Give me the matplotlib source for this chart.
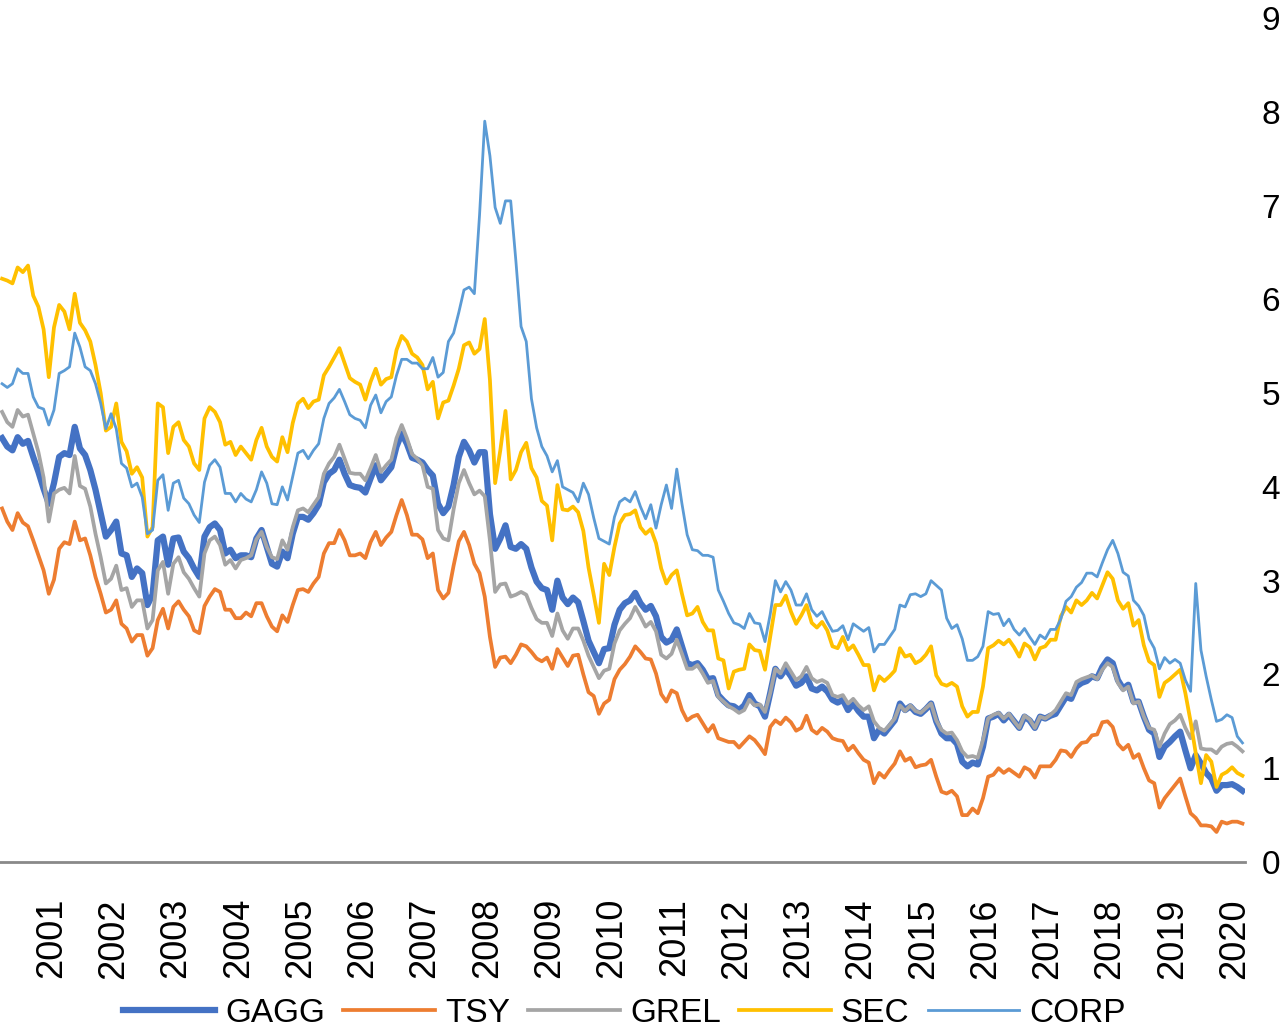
import numpy as np
import matplotlib.pyplot as plt

plt.rcParams['font.family'] = ['Liberation Sans', 'DejaVu Sans']

# monthly yields (%)
gagg = [4.52, 4.43, 4.39, 4.53, 4.46, 4.49, 4.32, 4.16, 3.98, 3.82, 4.04, 4.32,
        4.36, 4.34, 4.64, 4.41, 4.34, 4.18, 3.97, 3.72, 3.47, 3.54, 3.63, 3.29,
        3.27, 3.04, 3.13, 3.08, 2.74, 2.85, 3.43, 3.47, 3.17, 3.45, 3.46, 3.31,
        3.24, 3.13, 3.04, 3.47, 3.57, 3.61, 3.54, 3.29, 3.33, 3.24, 3.27, 3.27,
        3.25, 3.45, 3.54, 3.36, 3.18, 3.15, 3.31, 3.24, 3.50, 3.68, 3.68, 3.65,
        3.72, 3.81, 4.05, 4.14, 4.18, 4.29, 4.14, 4.02, 4.00, 3.99, 3.94, 4.09,
        4.23, 4.07, 4.14, 4.21, 4.43, 4.57, 4.46, 4.31, 4.29, 4.26, 4.18, 4.12,
        3.82, 3.72, 3.79, 4.02, 4.32, 4.48, 4.39, 4.26, 4.37, 4.37, 3.71, 3.34,
        3.45, 3.59, 3.36, 3.34, 3.39, 3.34, 3.14, 2.99, 2.92, 2.90, 2.69, 3.00,
        2.82, 2.75, 2.82, 2.77, 2.57, 2.36, 2.24, 2.12, 2.27, 2.28, 2.53, 2.69,
        2.76, 2.79, 2.87, 2.76, 2.69, 2.73, 2.62, 2.40, 2.34, 2.37, 2.48, 2.30,
        2.12, 2.10, 2.12, 2.05, 1.95, 1.96, 1.78, 1.72, 1.67, 1.66, 1.62, 1.67,
        1.78, 1.69, 1.66, 1.55, 1.80, 2.06, 1.98, 2.06, 1.98, 1.88, 1.91, 1.98,
        1.85, 1.83, 1.87, 1.82, 1.73, 1.70, 1.73, 1.62, 1.69, 1.61, 1.55, 1.55,
        1.32, 1.41, 1.37, 1.44, 1.51, 1.69, 1.62, 1.66, 1.60, 1.58, 1.63, 1.69,
        1.50, 1.37, 1.32, 1.32, 1.26, 1.07, 1.02, 1.06, 1.04, 1.23, 1.53, 1.55,
        1.58, 1.51, 1.57, 1.50, 1.43, 1.55, 1.51, 1.43, 1.55, 1.53, 1.56, 1.58,
        1.67, 1.76, 1.74, 1.87, 1.91, 1.93, 1.98, 1.96, 2.08, 2.16, 2.12, 1.94,
        1.85, 1.89, 1.71, 1.71, 1.55, 1.41, 1.37, 1.12, 1.23, 1.28, 1.34, 1.39,
        1.19, 1.00, 1.14, 1.05, 0.95, 0.89, 0.76, 0.82, 0.82, 0.83, 0.80, 0.76]

tsy = [3.77, 3.63, 3.54, 3.72, 3.62, 3.58, 3.43, 3.27, 3.11, 2.86, 3.01, 3.34,
       3.41, 3.39, 3.63, 3.43, 3.45, 3.27, 3.04, 2.86, 2.66, 2.69, 2.79, 2.54,
       2.49, 2.35, 2.42, 2.42, 2.20, 2.28, 2.58, 2.70, 2.49, 2.72, 2.78, 2.69,
       2.62, 2.47, 2.44, 2.73, 2.83, 2.91, 2.88, 2.69, 2.69, 2.60, 2.60, 2.66,
       2.62, 2.76, 2.76, 2.62, 2.51, 2.46, 2.63, 2.56, 2.74, 2.90, 2.91, 2.88,
       2.97, 3.04, 3.29, 3.40, 3.40, 3.54, 3.43, 3.27, 3.27, 3.29, 3.24, 3.41,
       3.52, 3.38, 3.46, 3.52, 3.70, 3.86, 3.70, 3.49, 3.49, 3.44, 3.24, 3.29,
       2.90, 2.81, 2.87, 3.16, 3.42, 3.52, 3.38, 3.18, 3.08, 2.83, 2.40, 2.08,
       2.18, 2.19, 2.12, 2.21, 2.32, 2.30, 2.24, 2.17, 2.14, 2.18, 2.06, 2.27,
       2.18, 2.09, 2.20, 2.21, 2.00, 1.81, 1.77, 1.58, 1.69, 1.73, 1.95, 2.05,
       2.11, 2.19, 2.30, 2.24, 2.17, 2.16, 2.01, 1.79, 1.71, 1.83, 1.80, 1.62,
       1.51, 1.55, 1.57, 1.48, 1.39, 1.46, 1.32, 1.30, 1.28, 1.28, 1.22, 1.28,
       1.34, 1.30, 1.23, 1.15, 1.44, 1.51, 1.47, 1.54, 1.49, 1.40, 1.43, 1.56,
       1.41, 1.37, 1.43, 1.39, 1.32, 1.30, 1.29, 1.19, 1.24, 1.16, 1.09, 1.06,
       0.84, 0.95, 0.90, 0.98, 1.05, 1.18, 1.08, 1.11, 1.01, 1.03, 1.04, 1.09,
       0.91, 0.75, 0.73, 0.76, 0.70, 0.50, 0.50, 0.57, 0.52, 0.68, 0.91, 0.93,
       1.00, 0.95, 0.99, 0.95, 0.91, 1.01, 0.98, 0.90, 1.02, 1.02, 1.02, 1.09,
       1.19, 1.18, 1.12, 1.21, 1.27, 1.28, 1.35, 1.36, 1.49, 1.50, 1.44, 1.26,
       1.20, 1.25, 1.11, 1.15, 1.00, 0.87, 0.84, 0.58, 0.68, 0.75, 0.82, 0.89,
       0.70, 0.52, 0.47, 0.39, 0.39, 0.38, 0.32, 0.43, 0.41, 0.43, 0.43, 0.41]

grel = [4.80, 4.69, 4.64, 4.82, 4.75, 4.77, 4.57, 4.37, 4.10, 3.63, 3.93, 3.97,
        3.99, 3.93, 4.33, 4.01, 3.98, 3.79, 3.50, 3.25, 2.97, 3.02, 3.16, 2.90,
        2.92, 2.72, 2.79, 2.79, 2.49, 2.58, 3.11, 3.20, 2.86, 3.18, 3.25, 3.09,
        3.02, 2.92, 2.83, 3.29, 3.43, 3.47, 3.38, 3.17, 3.22, 3.13, 3.22, 3.24,
        3.27, 3.44, 3.52, 3.36, 3.25, 3.23, 3.43, 3.33, 3.57, 3.75, 3.77, 3.73,
        3.81, 3.89, 4.14, 4.25, 4.32, 4.45, 4.30, 4.15, 4.14, 4.14, 4.07, 4.20,
        4.34, 4.16, 4.23, 4.29, 4.52, 4.66, 4.52, 4.35, 4.30, 4.23, 4.00, 3.98,
        3.54, 3.45, 3.43, 3.76, 4.04, 4.18, 4.04, 3.92, 3.96, 3.90, 3.43, 2.88,
        2.96, 2.97, 2.83, 2.85, 2.88, 2.85, 2.71, 2.59, 2.55, 2.55, 2.41, 2.65,
        2.47, 2.38, 2.49, 2.49, 2.36, 2.20, 2.08, 1.96, 2.04, 2.06, 2.33, 2.47,
        2.54, 2.60, 2.72, 2.62, 2.51, 2.56, 2.46, 2.21, 2.17, 2.22, 2.37, 2.22,
        2.06, 2.06, 2.10, 2.01, 1.91, 1.93, 1.76, 1.71, 1.66, 1.63, 1.59, 1.62,
        1.73, 1.67, 1.68, 1.60, 1.80, 2.06, 2.01, 2.12, 2.03, 1.94, 1.98, 2.08,
        1.96, 1.92, 1.94, 1.91, 1.78, 1.76, 1.78, 1.69, 1.74, 1.67, 1.62, 1.66,
        1.50, 1.43, 1.40, 1.46, 1.53, 1.67, 1.61, 1.67, 1.61, 1.59, 1.64, 1.69,
        1.51, 1.41, 1.37, 1.38, 1.30, 1.18, 1.12, 1.13, 1.11, 1.30, 1.53, 1.57,
        1.59, 1.53, 1.58, 1.50, 1.43, 1.56, 1.52, 1.43, 1.55, 1.53, 1.57, 1.62,
        1.71, 1.80, 1.78, 1.92, 1.95, 1.97, 1.99, 1.95, 2.05, 2.12, 2.08, 1.91,
        1.83, 1.87, 1.69, 1.71, 1.55, 1.43, 1.41, 1.23, 1.37, 1.47, 1.51, 1.57,
        1.43, 1.32, 1.50, 1.21, 1.20, 1.20, 1.16, 1.23, 1.26, 1.27, 1.23, 1.18]

sec = [6.22, 6.20, 6.17, 6.34, 6.29, 6.36, 6.04, 5.92, 5.68, 5.17, 5.70, 5.94,
       5.87, 5.68, 6.06, 5.75, 5.67, 5.55, 5.30, 5.00, 4.60, 4.64, 4.89, 4.48,
       4.38, 4.14, 4.21, 4.10, 3.47, 3.57, 4.89, 4.85, 4.36, 4.64, 4.69, 4.50,
       4.43, 4.25, 4.18, 4.73, 4.85, 4.80, 4.69, 4.45, 4.48, 4.34, 4.43, 4.36,
       4.29, 4.50, 4.63, 4.43, 4.32, 4.27, 4.53, 4.37, 4.68, 4.89, 4.94, 4.84,
       4.91, 4.93, 5.19, 5.28, 5.38, 5.48, 5.32, 5.16, 5.12, 5.09, 4.93, 5.12,
       5.26, 5.09, 5.15, 5.17, 5.46, 5.61, 5.55, 5.42, 5.38, 5.30, 5.04, 5.12,
       4.73, 4.90, 4.92, 5.08, 5.26, 5.51, 5.54, 5.42, 5.47, 5.79, 5.14, 4.04,
       4.39, 4.81, 4.08, 4.18, 4.37, 4.47, 4.20, 4.10, 3.85, 3.80, 3.43, 4.02,
       3.76, 3.75, 3.79, 3.73, 3.53, 3.14, 2.85, 2.55, 3.18, 3.06, 3.36, 3.61,
       3.70, 3.71, 3.75, 3.57, 3.50, 3.55, 3.40, 3.13, 2.97, 3.06, 3.11, 2.86,
       2.63, 2.65, 2.72, 2.56, 2.47, 2.47, 2.17, 2.15, 1.85, 2.03, 2.05, 2.06,
       2.32, 2.26, 2.25, 2.05, 2.40, 2.74, 2.74, 2.84, 2.67, 2.54, 2.63, 2.74,
       2.55, 2.50, 2.56, 2.47, 2.30, 2.28, 2.40, 2.26, 2.31, 2.21, 2.10, 2.10,
       1.83, 1.98, 1.93, 1.98, 2.04, 2.28, 2.19, 2.21, 2.12, 2.15, 2.21, 2.30,
       1.99, 1.90, 1.88, 1.91, 1.87, 1.66, 1.55, 1.60, 1.60, 1.87, 2.28, 2.31,
       2.36, 2.32, 2.37, 2.29, 2.19, 2.33, 2.29, 2.16, 2.28, 2.30, 2.37, 2.37,
       2.62, 2.72, 2.66, 2.79, 2.74, 2.79, 2.87, 2.81, 2.95, 3.09, 3.02, 2.79,
       2.70, 2.76, 2.52, 2.58, 2.31, 2.14, 2.10, 1.76, 1.91, 1.95, 2.00, 2.05,
       1.80, 1.50, 1.16, 0.84, 1.14, 1.07, 0.80, 0.93, 0.96, 1.01, 0.95, 0.92]

corp = [5.10, 5.06, 5.10, 5.26, 5.21, 5.21, 4.96, 4.85, 4.83, 4.66, 4.82, 5.21,
        5.24, 5.28, 5.64, 5.49, 5.28, 5.24, 5.10, 4.89, 4.62, 4.78, 4.62, 4.25,
        4.20, 4.00, 4.04, 3.89, 3.50, 3.54, 4.07, 4.13, 3.75, 4.04, 4.07, 3.88,
        3.82, 3.70, 3.62, 4.05, 4.23, 4.29, 4.21, 3.93, 3.93, 3.84, 3.93, 3.87,
        3.84, 3.97, 4.16, 4.04, 3.82, 3.81, 4.00, 3.86, 4.11, 4.36, 4.39, 4.30,
        4.39, 4.46, 4.73, 4.89, 4.95, 5.04, 4.91, 4.77, 4.73, 4.71, 4.63, 4.87,
        4.98, 4.79, 4.91, 4.96, 5.19, 5.36, 5.36, 5.32, 5.32, 5.26, 5.26, 5.38,
        5.17, 5.22, 5.55, 5.64, 5.86, 6.10, 6.13, 6.06, 6.90, 7.90, 7.53, 6.98,
        6.81, 7.05, 7.05, 6.41, 5.71, 5.55, 4.94, 4.63, 4.43, 4.33, 4.16, 4.28,
        4.00, 3.97, 3.94, 3.84, 4.04, 3.92, 3.67, 3.45, 3.42, 3.39, 3.68, 3.84,
        3.88, 3.84, 3.95, 3.79, 3.66, 3.81, 3.56, 3.81, 4.02, 3.77, 4.19, 3.82,
        3.49, 3.33, 3.32, 3.27, 3.27, 3.25, 2.90, 2.78, 2.65, 2.55, 2.53, 2.49,
        2.65, 2.55, 2.54, 2.35, 2.64, 3.00, 2.88, 2.99, 2.90, 2.74, 2.74, 2.86,
        2.69, 2.62, 2.67, 2.56, 2.46, 2.47, 2.52, 2.37, 2.54, 2.50, 2.46, 2.50,
        2.24, 2.32, 2.32, 2.40, 2.48, 2.74, 2.72, 2.85, 2.86, 2.83, 2.86, 3.00,
        2.95, 2.90, 2.60, 2.49, 2.53, 2.38, 2.15, 2.15, 2.19, 2.30, 2.67, 2.64,
        2.65, 2.52, 2.59, 2.48, 2.42, 2.49, 2.40, 2.32, 2.42, 2.38, 2.48, 2.48,
        2.59, 2.78, 2.83, 2.93, 2.98, 3.08, 3.08, 3.04, 3.19, 3.33, 3.43, 3.29,
        3.09, 3.05, 2.79, 2.73, 2.63, 2.38, 2.28, 2.06, 2.18, 2.12, 2.16, 2.12,
        1.94, 1.82, 2.97, 2.26, 1.98, 1.73, 1.50, 1.52, 1.57, 1.54, 1.34, 1.27]

years = [str(y) for y in range(2001, 2021)]

x = np.arange(len(gagg))

fig = plt.figure(figsize=(12.8, 10.29), dpi=100)
ax = fig.add_axes([0.0, 0.1623, 0.9727, 0.8202])

ax.plot(x, gagg, color="#4472C4", lw=4.5, label="GAGG", solid_joinstyle="round")
ax.plot(x, tsy, color="#ED7D31", lw=2.7, label="TSY")
ax.plot(x, grel, color="#A5A5A5", lw=2.7, label="GREL")
ax.plot(x, sec, color="#FFC000", lw=2.7, label="SEC")
ax.plot(x, corp, color="#5B9BD5", lw=2.0, label="CORP")

ax.set_xlim(-0.4, 239.5)
ax.set_ylim(0, 9)

# year labels, one per 12 months
ax.set_xticks(9.5 + 12*np.arange(len(years)))
ax.set_xticklabels(years, rotation=90, fontsize=26)
ax.tick_params(axis="x", length=0, pad=26)

ax.yaxis.tick_right()
ax.set_yticks(range(0, 10))
ax.tick_params(axis="y", length=0, pad=12, labelsize=24)

for s in ["top", "left", "right"]:
    ax.spines[s].set_visible(False)
ax.spines["bottom"].set_color("#898989")
ax.spines["bottom"].set_linewidth(2.0)

fig.legend(loc="center", bbox_to_anchor=(0.488, 0.015), ncol=5, frameon=False,
           fontsize=24, handlelength=2.75, handletextpad=0.3, columnspacing=0.55)

plt.savefig("out.png", dpi=100)
